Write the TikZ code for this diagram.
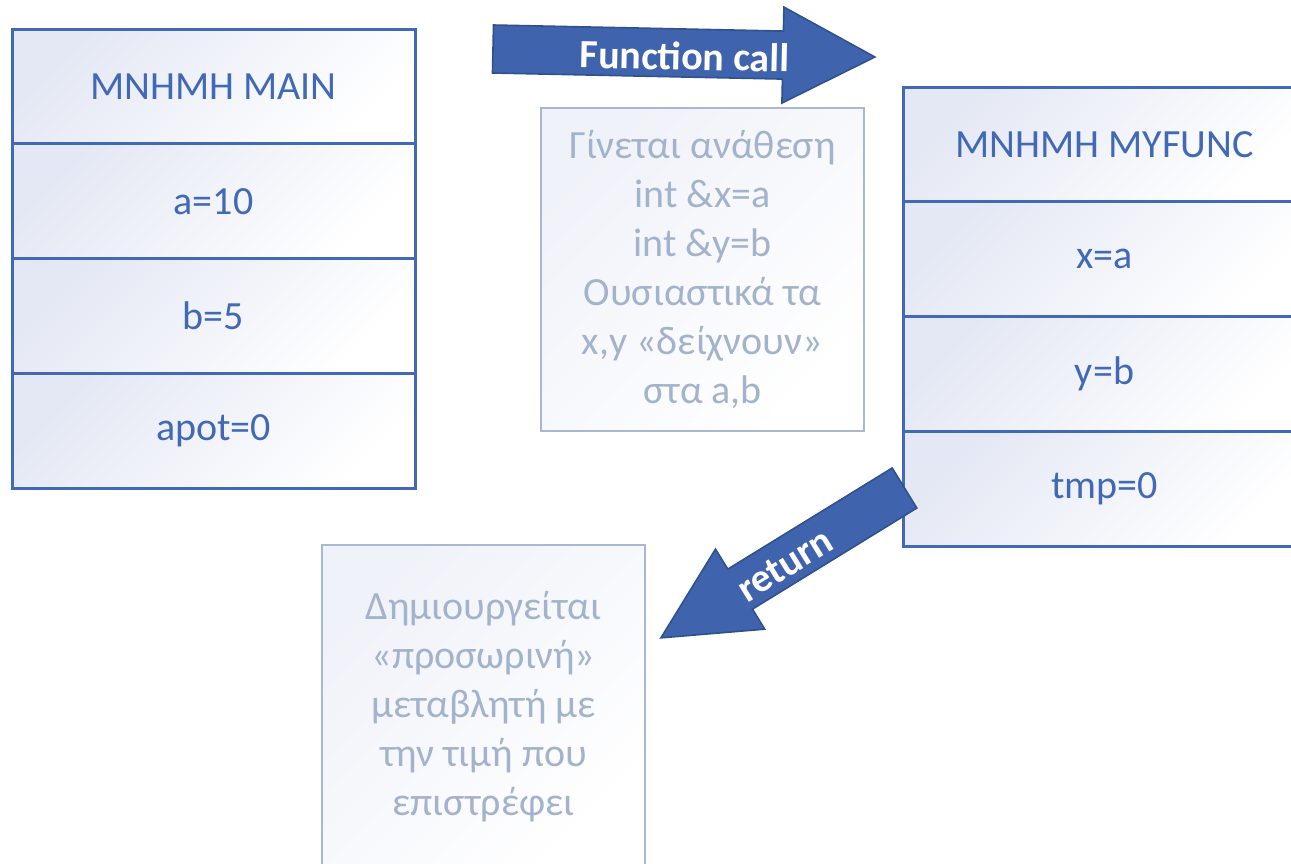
\documentclass[tikz,border=0pt]{standalone}
\usepackage{fontspec}
\setmainfont{Carlito}
\usepackage{tikz}
\usetikzlibrary{positioning}
\definecolor{memBlue}{HTML}{4169B5}
\definecolor{arrowBlue}{HTML}{3F63AC}
\definecolor{arrowEdge}{HTML}{2F528F}
\definecolor{noteGrey}{HTML}{A8B8D2}
\definecolor{noteText}{HTML}{A3B3CC}
\definecolor{cellTint}{HTML}{E4E8F4}
\definecolor{noteTint}{HTML}{F0F2F9}
\tikzset{
cell/.style = {rectangle, draw=memBlue, line width=1.5pt, text=memBlue,
               minimum width=201.5pt, minimum height=#1,
               inner sep=0pt, outer sep=0pt,
               top color=cellTint, middle color=white, bottom color=white,
               shading angle=45},
cell/.default = 57.4pt % half the row height in pixels
}
\tikzset{
note/.style = {rectangle, draw=noteGrey, line width=1.2pt, text=noteText,
               align=center, minimum size=161.5pt, inner sep=0pt,
               top color=noteTint, middle color=white, bottom color=white,
               shading angle=45}
}
\tikzset{
blockArrow/.style = {fill=arrowBlue, draw=arrowEdge, line width=0.8pt}
}

\begin{document}
\begin{tikzpicture}[x=0.5pt, y=-0.5pt, font=\fontsize{20}{24.5}\selectfont]
    \clip (0,0) rectangle (1291,863);

    % memory of main
    \node[cell] (mainHead) at (213.5,86.4) {MNHMH MAIN};
    \node[cell, below=0pt of mainHead] (mainA) {a=10};
    \node[cell, below=0pt of mainA] (mainB) {b=5};
    \node[cell, below=0pt of mainB] (mainApot) {apot=0};

    % memory of myfunc
    \node[cell] (funcHead) at (1104.5,144.4) {MNHMH MYFUNC};
    \node[cell, below=0pt of funcHead] (funcX) {x=a};
    \node[cell, below=0pt of funcX] (funcY) {y=b};
    \node[cell, below=0pt of funcY] (funcTmp) {tmp=0};

    \node[note] (noteCall) at (702.5,269.5) {Γίνεται ανάθεση\\int \&x=a\\int \&y=b\\Ουσιαστικά τα\\x,y «δείχνουν»\\στα a,b};
    \node[note] (noteRet) at (483.5,706.5) {Δημιουργείται\\«προσωρινή»\\μεταβλητή με\\την τιμή που\\επιστρέφει};

    % function call arrow
    \begin{scope}[shift={(493,49)}, rotate=-1.2]
        \draw[blockArrow] (0,-24) -- (290,-24) -- (290,-48) -- (382,0) -- (290,48) -- (290,24) -- (0,24) -- cycle;
        \node[text=white, font=\fontsize{20}{24.5}\selectfont\bfseries, transform shape] (callText) at (192,3) {Function call};
    \end{scope}

    % return arrow
    \begin{scope}[shift={(904.5,488)}, rotate=31.6]
        \draw[blockArrow] (0,-23.5) -- (-193,-23.5) -- (-193,-47) -- (-286,0) -- (-193,47) -- (-193,23.5) -- (0,23.5) -- cycle;
        \node[text=white, font=\fontsize{20}{24.5}\selectfont\bfseries, transform shape] (retText) at (-142,3) {return};
    \end{scope}
\end{tikzpicture}
\end{document}
